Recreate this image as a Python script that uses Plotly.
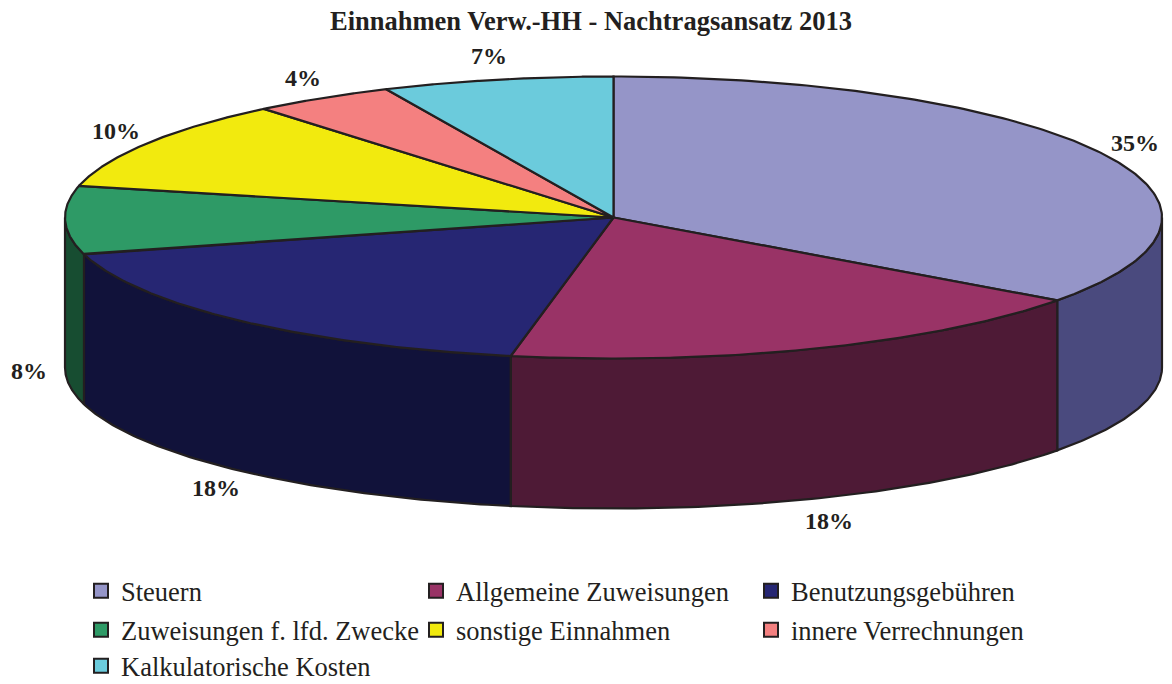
import numpy as np
import plotly.graph_objects as go

# ---- data ----
categories = ["Steuern", "Allgemeine Zuweisungen", "Benutzungsgebühren",
              "Zuweisungen f. lfd. Zwecke", "sonstige Einnahmen",
              "innere Verrechnungen", "Kalkulatorische Kosten"]
values = [35.0, 18.0, 17.8, 7.8, 10.4, 4.2, 6.8]
top_colors = ["#9595c8", "#993366", "#262673", "#2e9a66", "#f2ea0e", "#f48080", "#6bcbdc"]
side_colors = ["#4a4a7e", "#4e1a36", "#11123a", "#174d31", "#8a8500", "#8a4545", "#3a7a85"]
title_text = "Einnahmen Verw.-HH - Nachtragsansatz 2013"

# ---- layout constants (pixels) ----
W, H = 1172, 684
cx, cy = 613.5, 217.5       # centre of top ellipse
a, b = 548.5, 141.0         # radii of top ellipse
depth = 150.0               # thickness of the pie
la, lb = 585.0, 165.0       # label ellipse radii
OUT = "#231f20"
FONT = "Liberation Serif"

vals = np.array(values, dtype=float)
frac = vals / vals.sum()
ends = np.cumsum(frac) * 360.0
starts = ends - frac * 360.0


def pt(theta_deg, dy=0.0, ra=a, rb=b):
    t = np.radians(theta_deg)
    return cx + ra * np.sin(t), cy - rb * np.cos(t) + dy


fig = go.Figure()

# side walls (visible front half: 90..270 deg)
for i in range(len(vals)):
    s, e = max(starts[i], 90.0), min(ends[i], 270.0)
    if e <= s:
        continue
    th = np.linspace(s, e, 80)
    xt, yt = pt(th)
    xb, yb = pt(th[::-1], depth)
    xs = np.concatenate([xt, xb, xt[:1]])
    ys = np.concatenate([yt, yb, yt[:1]])
    fig.add_trace(go.Scatter(x=xs, y=ys, mode="lines", fill="toself",
                             fillcolor=side_colors[i],
                             line=dict(color=OUT, width=2.2),
                             hoverinfo="skip", showlegend=False))

# top faces
for i in range(len(vals)):
    th = np.linspace(starts[i], ends[i], 160)
    xa, ya = pt(th)
    xs = np.concatenate([[cx], xa, [cx]])
    ys = np.concatenate([[cy], ya, [cy]])
    fig.add_trace(go.Scatter(x=xs, y=ys, mode="lines", fill="toself",
                             fillcolor=top_colors[i],
                             line=dict(color=OUT, width=2.2),
                             name=categories[i],
                             text=f"{categories[i]}: {values[i]:.1f}%",
                             hoverinfo="text", hoveron="fills",
                             showlegend=False))

# percentage labels
for i in range(len(vals)):
    mid = (starts[i] + ends[i]) / 2.0
    t = np.radians(mid)
    dy = depth if np.cos(t) < 0.05 else 0.0
    x, y = pt(mid, dy, la, lb)
    fig.add_annotation(x=x, y=y, text=f"<b>{round(frac[i]*100):.0f}%</b>",
                       showarrow=False, xanchor="center", yanchor="middle",
                       font=dict(family=FONT, size=24, color=OUT))

# legend entries (three rows -> three legends)
legend_names = ["legend", "legend2", "legend3"]
for i, cat in enumerate(categories):
    fig.add_trace(go.Scatter(x=[None], y=[None], mode="markers",
                             marker=dict(symbol="square", size=14, color=top_colors[i],
                                         line=dict(color=OUT, width=2)),
                             name=cat, legend=legend_names[i // 3],
                             showlegend=True, hoverinfo="skip"))

row_y = [592, 631, 667]     # text centres of legend rows


def py(ypix):
    return 1 - ypix / H


leg_common = dict(orientation="h", xanchor="left", yanchor="middle",
                  xref="container", yref="container",
                  x=81 / W, entrywidth=290, entrywidthmode="pixels",
                  font=dict(family=FONT, size=26.5, color=OUT),
                  bgcolor="rgba(0,0,0,0)", itemclick=False, itemdoubleclick=False)

fig.update_layout(
    width=W, height=H, autosize=False,
    margin=dict(l=0, r=0, t=0, b=0, autoexpand=False),
    paper_bgcolor="white", plot_bgcolor="white",
    title=dict(text=f"<b>{title_text}</b>", x=591 / W, xanchor="center",
               y=py(21), yanchor="middle",
               font=dict(family=FONT, size=26.5, color=OUT)),
    xaxis=dict(range=[0, W], visible=False, fixedrange=True),
    yaxis=dict(range=[H, 0], visible=False, fixedrange=True),
    legend=dict(y=py(row_y[0] - 1), **leg_common),
    legend2=dict(y=py(row_y[1] - 1), **leg_common),
    legend3=dict(y=py(row_y[2] - 1), **leg_common),
)

fig.write_html("out.html", config={"displayModeBar": False},
               post_script="document.body.style.margin='0';")
